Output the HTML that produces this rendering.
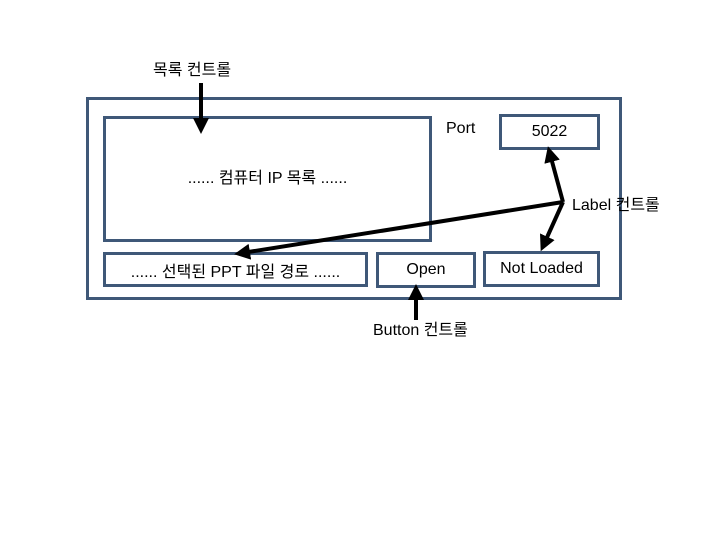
<!DOCTYPE html>
<html><head><meta charset="utf-8"><style>
html,body{margin:0;padding:0;background:#fff;}
body{width:720px;height:540px;position:relative;overflow:hidden;font-family:"Liberation Sans","Noto Sans CJK KR",sans-serif;font-size:16px;color:#000;}
.b{position:absolute;border:3px solid #3f5878;box-sizing:border-box;}
.t{position:absolute;white-space:nowrap;}
.c{display:flex;align-items:center;justify-content:center;}
</style></head><body>
<div class="b" style="left:86px;top:97px;width:536px;height:203px;"></div>
<div class="b c" style="left:103px;top:116px;width:329px;height:126px;"><span style="margin-top:-6px">...... 컴퓨터 IP 목록 ......</span></div>
<div class="b c" style="left:499px;top:114px;width:101px;height:36px;">5022</div>
<div class="b c" style="left:103px;top:252px;width:265px;height:35px;">...... 선택된 PPT 파일 경로 ......</div>
<div class="b c" style="left:376px;top:252px;width:100px;height:36px;">Open</div>
<div class="b c" style="left:483px;top:251px;width:117px;height:36px;">Not Loaded</div>
<div class="t" style="left:446px;top:120px;">Port</div>
<div class="t" style="left:153px;top:56px;">목록 컨트롤</div>
<div class="t" style="left:572px;top:191px;">Label 컨트롤</div>
<div class="t" style="left:373px;top:316px;">Button 컨트롤</div>
<svg width="720" height="540" style="position:absolute;left:0;top:0">
<defs><marker id="a" markerWidth="4" markerHeight="4" refX="2" refY="2" orient="auto"><path d="M0,0L4,2L0,4z" fill="#000"/></marker></defs>
<g stroke="#000" stroke-width="4" fill="none" marker-end="url(#a)">
<line x1="201" y1="83" x2="201" y2="126"/>
<line x1="563" y1="202" x2="550" y2="154"/>
<line x1="563" y1="202" x2="544" y2="244"/>
<line x1="563" y1="202" x2="242" y2="253"/>
<line x1="416" y1="320" x2="416" y2="292"/>
</g></svg>
</body></html>
